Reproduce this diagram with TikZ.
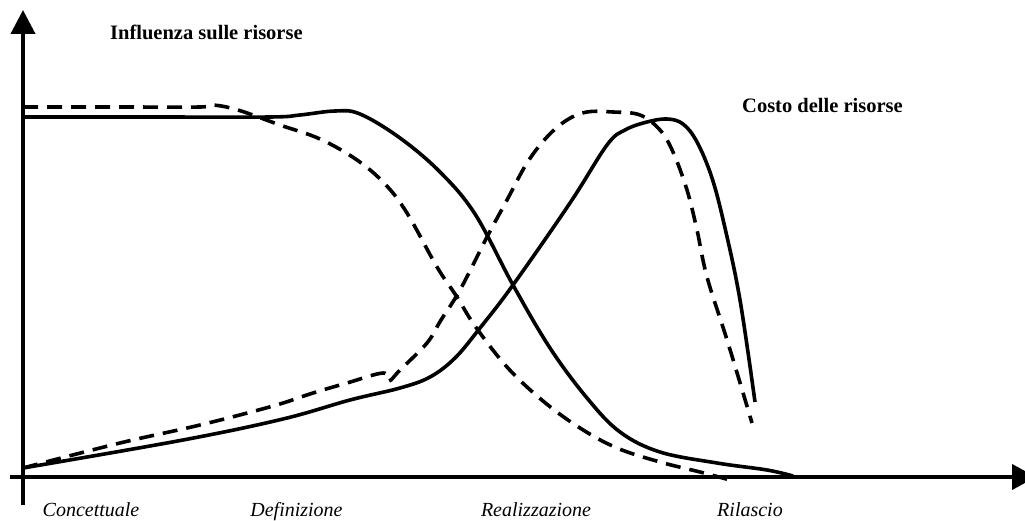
\documentclass[tikz,border=0pt]{standalone}
\usepackage{fontspec}
\setmainfont{Liberation Serif}
\usetikzlibrary{arrows.meta}
\begin{document}
\begin{tikzpicture}[x=1pt,y=-1pt,
  axis/.style={line width=4pt},
  curve/.style={line width=3.6pt,line join=round},
  dashcurve/.style={curve,dash pattern=on 15pt off 9pt},
  heading/.style={font=\bfseries\fontsize{20.5}{24}\selectfont,anchor=base west,inner sep=0pt},
  phase/.style={font=\itshape\fontsize{20}{24}\selectfont,anchor=base,inner sep=0pt}]
\useasboundingbox (0,0) rectangle (1025,521);
\begin{scope}
\clip (0,0) rectangle (1025,521);

% axes
\coordinate (ybottom) at (23,505);
\coordinate (ytop) at (23,10);
\coordinate (xleft) at (10,477);
\coordinate (xright) at (1036,477);
\draw[axis,-{Triangle[length=24pt,width=24pt]}] (ybottom) -- (ytop);
\draw[axis,-{Triangle[length=24pt,width=25pt]}] (xleft) -- (xright);

% influence on resources, solid
\draw[curve] plot[smooth,tension=0.6] coordinates {
 (23,117) (150,117) (270,117) (300,115) (335,111) (360,114) (400,138)
 (440,172) (475,214) (513,285) (550,348) (587,398) (620,432) (660,452)
 (717,463) (767,470) (793,476)};

% influence on resources, dashed
\draw[dashcurve] plot[smooth,tension=0.6] coordinates {
 (23,107) (120,107) (200,107) (213,105) (238,110) (280,125) (320,139)
 (357,160) (385,184) (407,213) (437,267) (457,297) (475,326) (507,367)
 (543,401) (580,428) (617,448) (660,462) (700,472) (730,480)};

% cost of resources, solid
\draw[curve] plot[smooth,tension=0.6] coordinates {
 (23,468) (183,440) (283,419) (350,400) (400,388) (430,377) (455,358)
 (480,328) (513,285) (570,203) (607,145) (625,130) (647,122) (667,119)
 (683,124) (697,142) (712,178) (725,228) (740,300) (755,402)};

% cost of resources, dashed
\draw[dashcurve] plot[smooth,tension=0.6] coordinates {
 (23,468) (120,443) (200,425) (273,406) (313,393) (347,383) (383,373)
 (389,381) (400,370) (427,343) (441,320) (460,290) (487,237) (507,200)
 (527,163) (547,137) (567,120) (587,112) (613,112) (640,115) (660,130)
 (673,152) (687,190) (697,230) (707,277) (728,343) (752,423)};
\end{scope}

% labels
\node[heading] (infl) at (110,40) {Influenza sulle risorse};
\node[heading] (costo) at (742,113) {Costo delle risorse};
\node[phase] (conc) at (91,516) {Concettuale};
\node[phase] (defin) at (296.5,516) {Definizione};
\node[phase] (realiz) at (536,516) {Realizzazione};
\node[phase] (rilas) at (750,516) {Rilascio};
\end{tikzpicture}
\end{document}
